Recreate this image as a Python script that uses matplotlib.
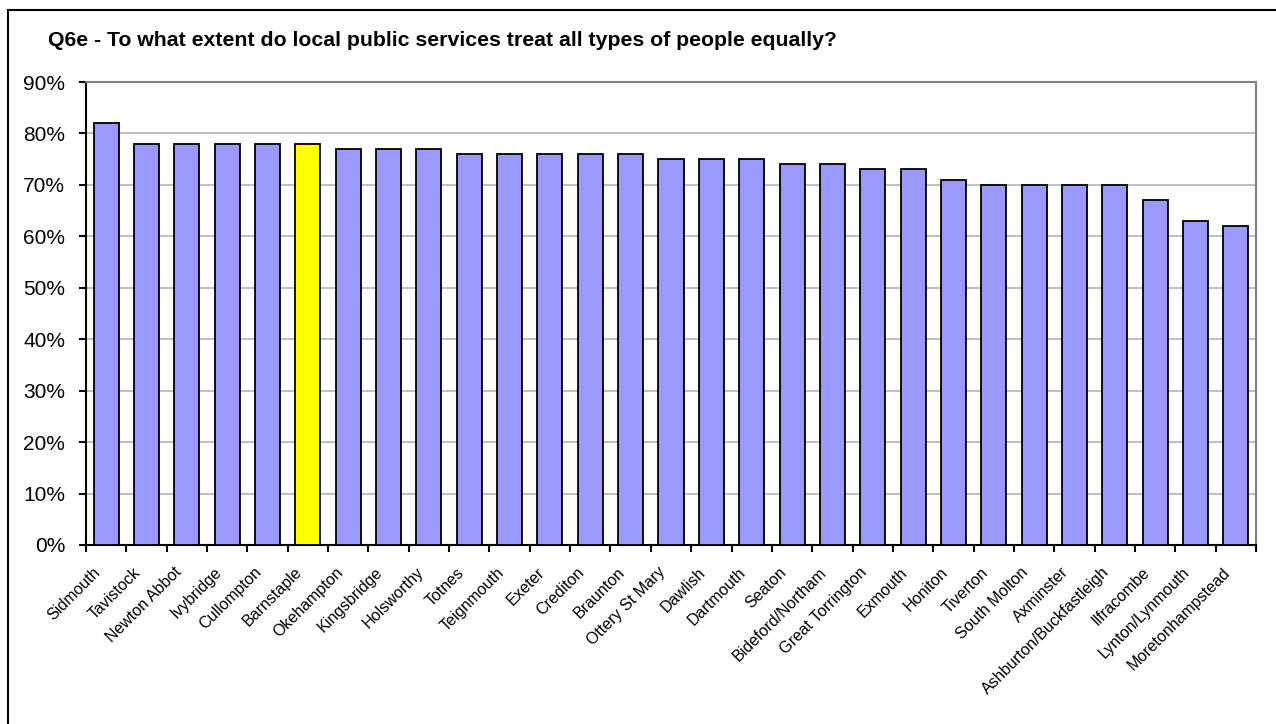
import matplotlib.pyplot as plt
import matplotlib.transforms as mtransforms
from matplotlib.patches import Rectangle
from matplotlib.ticker import PercentFormatter

plt.rcParams['font.family'] = ['Liberation Sans', 'DejaVu Sans']

TITLE = 'Q6e - To what extent do local public services treat all types of people equally?'
towns = ['Sidmouth', 'Tavistock', 'Newton Abbot', 'Ivybridge', 'Cullompton', 'Barnstaple',
         'Okehampton', 'Kingsbridge', 'Holsworthy', 'Totnes', 'Teignmouth', 'Exeter',
         'Crediton', 'Braunton', 'Ottery St Mary', 'Dawlish', 'Dartmouth', 'Seaton',
         'Bideford/Northam', 'Great Torrington', 'Exmouth', 'Honiton', 'Tiverton',
         'South Molton', 'Axminster', 'Ashburton/Buckfastleigh', 'Ilfracombe',
         'Lynton/Lynmouth', 'Moretonhampstead']
values = [82, 78, 78, 78, 78, 78, 77, 77, 77, 76, 76, 76, 76, 76, 75, 75, 75, 74,
          74, 73, 73, 71, 70, 70, 70, 70, 67, 63, 62]
highlight = 'Barnstaple'

fig = plt.figure(figsize=(12.76, 7.24), dpi=100)
ax = fig.add_axes([86 / 1276, 1 - 545 / 724, (1256 - 86) / 1276, (545 - 82) / 724])

# outer chart border (right/bottom fall outside the image)
fig.patches.append(Rectangle((8 / 1276, -0.1), 1.2, 1 - 10 / 724 + 0.1,
                             transform=fig.transFigure, fill=False,
                             edgecolor='black', linewidth=1.5))

colors = ['#FFFF00' if t == highlight else '#9999FF' for t in towns]
x = list(range(len(towns)))
ax.bar(x, values, width=0.62, color=colors, edgecolor='black', linewidth=1.3, zorder=3)

ax.set_xlim(-0.5, len(towns) - 0.5)
ax.set_ylim(0, 90)
ax.set_yticks(range(0, 91, 10))
ax.yaxis.set_major_formatter(PercentFormatter(decimals=0))
ax.grid(axis='y', color='#c0c0c0', linewidth=1.5, zorder=0)

ax.set_xticks([i - 0.5 for i in range(len(towns) + 1)])
ax.set_xticklabels([])
ax.set_xticks(x, minor=True)
ax.set_xticklabels(towns, minor=True, rotation=45, ha='right', va='center',
                   rotation_mode='anchor', fontsize=11.5)
ax.tick_params(axis='x', which='minor', length=0, pad=18)
ax.tick_params(axis='x', which='major', length=5, width=1.5, direction='out')
ax.tick_params(axis='y', length=5, width=1.5, labelsize=15, pad=10)

# nudge the rotated labels a little left, as in the original
shift = mtransforms.ScaledTranslation(-8 / 100, 0, fig.dpi_scale_trans)
for lbl in ax.get_xticklabels(minor=True):
    lbl.set_transform(lbl.get_transform() + shift)

for s in ['top', 'right']:
    ax.spines[s].set_color('#808080')
    ax.spines[s].set_linewidth(1.5)
for s in ['left', 'bottom']:
    ax.spines[s].set_color('black')
    ax.spines[s].set_linewidth(1.5)

fig.text(48 / 1276, 1 - 40 / 724, TITLE, fontsize=15.3, fontweight='bold', va='center')

fig.savefig('out.png', dpi=100)
